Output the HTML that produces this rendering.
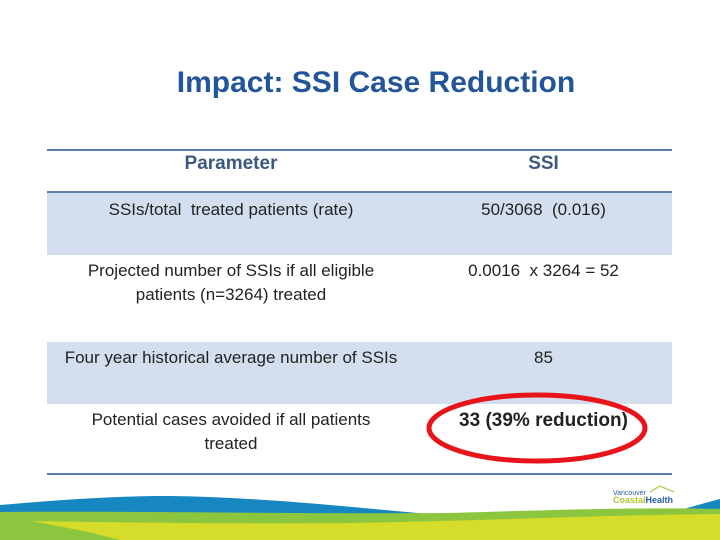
<!DOCTYPE html>
<html><head><meta charset="utf-8"><style>
body{margin:0;width:720px;height:540px;background:#fff;position:relative;overflow:hidden;font-family:"Liberation Sans",sans-serif}
.t{position:absolute;text-align:center;color:#222;font-size:17px;line-height:24px}
</style></head><body>
<div style="position:absolute;left:0;width:752px;top:66px;text-align:center;font-size:30px;font-weight:bold;color:#23559b">Impact: SSI Case Reduction</div>
<div>
<div style="position:absolute;left:47px;width:625px;top:192px;height:63px;background:#d3dfee"></div>
<div style="position:absolute;left:47px;width:625px;top:342px;height:62px;background:#d3dfee"></div>
<div style="position:absolute;left:47px;width:625px;top:149px;height:2px;background:#5b7fa8"></div>
<div style="position:absolute;left:47px;width:625px;top:191px;height:2px;background:#5b7fa8"></div>
<div style="position:absolute;left:47px;width:625px;top:473px;height:2px;background:#5b7fa8"></div>
<div class="t" style="left:47px;width:368px;top:152px;font-weight:bold;font-size:19px;color:#3c5a80">Parameter</div>
<div class="t" style="left:415px;width:257px;top:152px;font-weight:bold;font-size:19px;color:#3c5a80">SSI</div>
<div class="t" style="left:47px;width:368px;top:198px">SSIs/total&nbsp; treated patients (rate)</div>
<div class="t" style="left:415px;width:257px;top:198px">50/3068&nbsp; (0.016)</div>
<div class="t" style="left:47px;width:368px;top:259px">Projected number of SSIs if all eligible<br>patients (n=3264) treated</div>
<div class="t" style="left:415px;width:257px;top:259px">0.0016&nbsp; x 3264 = 52</div>
<div class="t" style="left:47px;width:368px;top:346px">Four year historical average number of SSIs</div>
<div class="t" style="left:415px;width:257px;top:346px">85</div>
<div class="t" style="left:47px;width:368px;top:408px">Potential cases avoided if all patients<br>treated</div>
<div class="t" style="left:415px;width:257px;top:409px;font-weight:bold;font-size:19px">33 (39% reduction)</div>
</div>
<svg width="720" height="540" style="position:absolute;left:0;top:0">
<ellipse cx="537" cy="428" rx="108" ry="33" fill="none" stroke="#e8141a" stroke-width="5"/>
<path d="M0,505 C60,500 110,496 170,496 C260,497 360,508 450,516 L0,516Z" fill="#1787c1"/>
<path d="M680,510 C695,506 708,502 720,499 L720,512Z" fill="#1787c1"/>
<path d="M0,512 C150,511 300,514 450,513 C550,510 650,507 720,509 L720,540 L0,540Z" fill="#8cc63f"/>
<path d="M30,521 C150,523 250,524 350,523 C480,521 600,515 720,514 L720,540 L120,540 C90,532 60,526 30,521Z" fill="#d6dc2a"/>
<text x="613" y="495" font-family="Liberation Sans,sans-serif" font-size="7" fill="#2a5ea8">Vancouver</text>
<text x="613" y="503" font-family="Liberation Sans,sans-serif" font-size="9" font-weight="bold" fill="#2a5ea8"><tspan fill="#b3c530">Coastal</tspan>Health</text>
<path d="M650,492 L660,486 L674,492" fill="none" stroke="#b3c530" stroke-width="1.2"/>
</svg>
</body></html>
